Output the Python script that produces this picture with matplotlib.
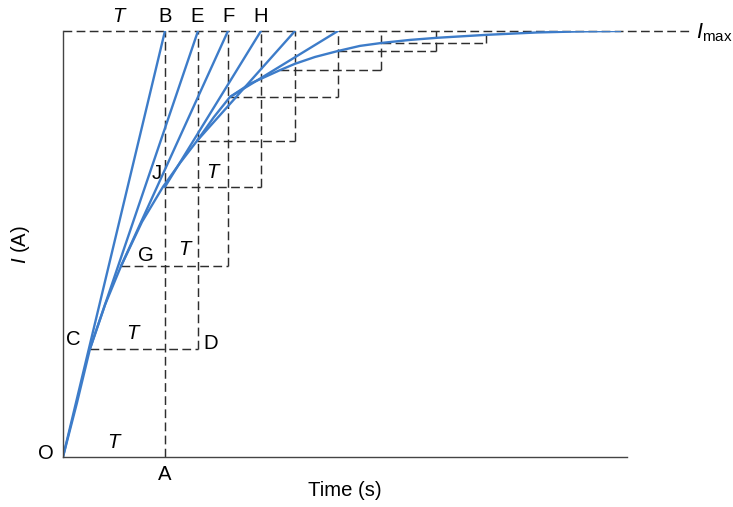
import matplotlib
matplotlib.use('Agg')
import matplotlib.pyplot as plt

plt.rcParams['font.family'] = ['Liberation Sans', 'DejaVu Sans']
plt.rcParams['mathtext.fontset'] = 'custom'
plt.rcParams['mathtext.rm'] = 'Liberation Sans'
plt.rcParams['mathtext.it'] = 'Liberation Sans:italic'

# current growth curve, time in units of T, current as fraction of Imax
curve_t = [0, 0.137, 0.265, 0.412, 0.569, 0.775, 0.98, 1.147, 1.314, 1.48, 1.637,
           1.833, 2.127, 2.275, 2.471, 2.696, 2.912, 3.127, 3.402, 3.667, 4.157,
           4.647, 5.069, 5.461]
curve_i = [0, 0.127, 0.254, 0.357, 0.448, 0.552, 0.634, 0.69, 0.742, 0.798, 0.845,
           0.876, 0.908, 0.923, 0.939, 0.953, 0.965, 0.972, 0.979, 0.984, 0.991,
           0.9965, 0.999, 1.0]

# construction points on the curve and where each step of length T ends
step_t = [0, 0.265, 0.569, 1.0, 1.314, 1.637, 2.127, 2.696, 3.127]
step_i = [0, 0.254, 0.448, 0.634, 0.742, 0.845, 0.908, 0.953, 0.972]
step_end = [1.0, 1.324, 1.618, 1.941, 2.275, 2.696, 3.118, 3.657, 4.147]
n_tangents = 6

blue = '#3d7cc9'
dash = dict(color='#2e2e2e', lw=1.05, linestyle=(0, (6, 3)))

fig = plt.figure(figsize=(7.33, 5.07), dpi=100)
ax = fig.add_axes([0.0859, 0.0986, 0.7695, 0.8403])
ax.set_xlim(0, 5.53)
ax.set_ylim(0, 1)

# dashed staircase
for k in range(len(step_t)):
    if k > 0:
        ax.plot([step_t[k], step_end[k]], [step_i[k], step_i[k]], **dash)
    ax.plot([step_end[k], step_end[k]], [step_i[k], 1.0], **dash)

# Imax line
ax.plot([0, 6.147], [1.0, 1.0], clip_on=False, **dash)

# tangents
for k in range(n_tangents):
    ax.plot([step_t[k], step_end[k]], [step_i[k], 1.0], color=blue, lw=1.7,
            solid_capstyle='round')

ax.plot(curve_t, curve_i, color=blue, lw=1.7, solid_joinstyle='round')

for s in ['top', 'right']:
    ax.spines[s].set_visible(False)
for s in ['left', 'bottom']:
    ax.spines[s].set_color('#444444')
    ax.spines[s].set_linewidth(1.0)
ax.set_xticks([])
ax.set_yticks([])

fs = 14.6
px = lambda x, y: ((x - 63) / 102, (457 - y) / 426)

def lab(x, y, s, **kw):
    tx, ty = px(x, y)
    ax.text(tx, ty, s, fontsize=fs, ha='center', va='center', clip_on=False, **kw)

for (x, y, s) in [(165, 17, 'B'), (197, 17, 'E'), (229, 17, 'F'), (261, 17, 'H'),
                  (157, 174, 'J'), (146, 256, 'G'), (73, 339, 'C'), (211, 343, 'D'),
                  (46, 453, 'O'), (165, 474, 'A')]:
    lab(x, y, s)
for (x, y) in [(118, 17), (212, 173), (184, 250), (132, 333), (113, 442)]:
    lab(x, y, 'T', style='italic')

lab(345, 490, 'Time (s)')
lab(21, 245, '$I$ (A)', rotation=90)
tx, ty = px(696, 33)
ax.text(tx, ty, r'$I_{\mathrm{max}}$', fontsize=fs + 1, ha='left', va='center',
        clip_on=False)

fig.savefig('out.png', dpi=100)
